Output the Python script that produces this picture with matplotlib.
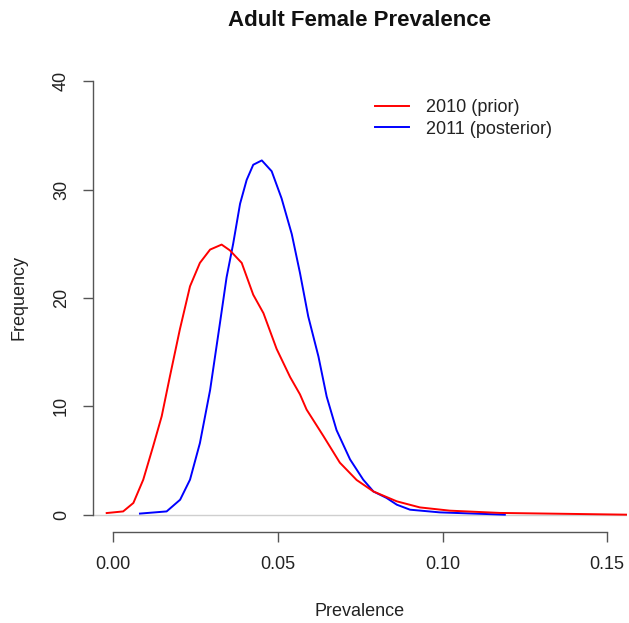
import numpy as np
import matplotlib.pyplot as plt

# ----- data (prevalence, density) -----
PRIOR_X = [-0.0020, 0.0030, 0.0061, 0.0091, 0.0121, 0.0147, 0.0172, 0.0202, 0.0233,
           0.0263, 0.0294, 0.0329, 0.0354, 0.0390, 0.0425, 0.0456, 0.0496, 0.0537,
           0.0567, 0.0587, 0.0638, 0.0688, 0.0739, 0.0790, 0.0861, 0.0931, 0.1022,
           0.1174, 0.1559]
PRIOR_Y = [0.15, 0.3, 1.08, 3.23, 6.31, 9.08, 12.77, 17.08, 21.08,
           23.24, 24.47, 24.93, 24.40, 23.24, 20.3, 18.6, 15.3, 12.7,
           11.1, 9.7, 7.26, 4.8, 3.2, 2.14, 1.23, 0.67, 0.37,
           0.16, 0.0]

POST_X = [0.0081, 0.0162, 0.0203, 0.0233, 0.0263, 0.0294, 0.0324, 0.0344, 0.0364,
          0.0385, 0.0405, 0.0425, 0.0451, 0.0481, 0.0511, 0.0542, 0.0567, 0.0592,
          0.0623, 0.0648, 0.0678, 0.0719, 0.0759, 0.0790, 0.0830, 0.0861, 0.0901,
          0.0992, 0.1189]
POST_Y = [0.1, 0.3, 1.38, 3.23, 6.6, 11.5, 17.7, 21.9, 25.0,
          28.7, 30.9, 32.3, 32.7, 31.7, 29.2, 25.9, 22.3, 18.3,
          14.6, 10.9, 7.8, 5.1, 3.23, 2.14, 1.54, 0.92, 0.46,
          0.21, 0.0]

LABELS = ["2010 (prior)", "2011 (posterior)"]
X_TICKS = [0.00, 0.05, 0.10, 0.15]
Y_TICKS = [0, 10, 20, 30, 40]

plt.rcParams["font.family"] = ["Liberation Sans", "DejaVu Sans"]

W, H = 629, 623
fig = plt.figure(figsize=(W / 100, H / 100), dpi=100)
# plot region in pixels: left 93, right 627, top 64, bottom 532
ax = fig.add_axes([93 / W, (H - 532) / H, (627 - 93) / W, (532 - 64) / H])

ax.axhline(0, color="#cfcfcf", lw=1.0, zorder=1)
ax.plot(PRIOR_X, PRIOR_Y, color="#ff0000", lw=1.4, label=LABELS[0], zorder=3)
ax.plot(POST_X, POST_Y, color="#0000ff", lw=1.4, label=LABELS[1], zorder=2)

ax.set_xlim(-0.00616, 0.156)
ax.set_ylim(-1.6, 41.6)

for side in ["top", "right"]:
    ax.spines[side].set_visible(False)
ax.spines["left"].set_bounds(0, 40)
ax.spines["bottom"].set_bounds(0, 0.15)
for side in ["left", "bottom"]:
    ax.spines[side].set_color("#555555")
    ax.spines[side].set_linewidth(1.0)

ax.set_xticks(X_TICKS)
ax.set_xticklabels([f"{v:.2f}" for v in X_TICKS])
ax.set_yticks(Y_TICKS)
ax.set_yticklabels([str(v) for v in Y_TICKS], rotation=90, va="center")
ax.tick_params(direction="out", length=7.5, width=1.0, color="#555555",
               labelsize=13, labelcolor="#222222")
ax.tick_params(axis="x", pad=10)
ax.tick_params(axis="y", pad=9)

fig.text(359 / W, 1 - 20 / H, "Adult Female Prevalence", ha="center", va="center",
         fontsize=16, fontweight="bold", color="#111111")
fig.text(360 / W, 1 - 611 / H, "Prevalence", ha="center", va="center",
         fontsize=13, color="#222222")
fig.text(19 / W, 1 - 298 / H, "Frequency", ha="center", va="center",
         fontsize=13, color="#222222", rotation=90)

leg = ax.legend(loc="upper left", bbox_to_anchor=(368 / W, 1 - 92 / H),
                bbox_transform=fig.transFigure, frameon=False, fontsize=13,
                handlelength=1.85, handletextpad=0.95, labelspacing=0.25,
                borderaxespad=0)
for t in leg.get_texts():
    t.set_color("#222222")

fig.savefig("out.png", dpi=100)
